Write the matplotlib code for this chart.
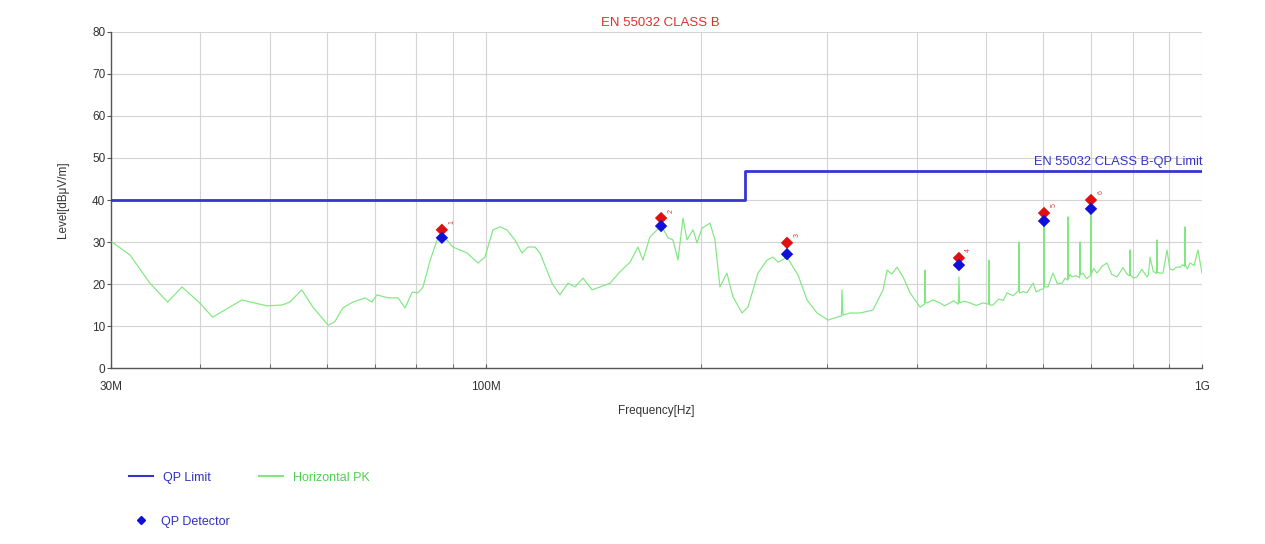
import matplotlib
matplotlib.use("Agg")
import matplotlib.pyplot as plt
from matplotlib.lines import Line2D
from matplotlib.ticker import FixedLocator, NullFormatter

plt.rcParams['font.family'] = ['Liberation Sans', 'DejaVu Sans']

# Horizontal peak scan (frequency in MHz, level in dBuV/m)
scan_freq = [30.1, 31.9, 34.0, 36.0, 37.7, 39.9, 41.6, 45.7, 49.5, 52.0,
             53.3, 55.4, 57.4, 60.3, 61.6, 63.2, 65.3, 67.9, 69.4, 70.5,
             73.1, 75.5, 77.2, 79.0, 80.5, 81.8, 83.7, 85.6, 86.9, 88.3,
             90.0, 94.2, 97.6, 99.8, 102.4, 104.7, 107.1, 109.9, 112.4, 114.6,
             117.2, 119.1, 123.8, 127.0, 130.3, 133.3, 136.8, 140.8, 144.5, 149.2,
             154.0, 159.1, 163.2, 165.8, 169.6, 173.5, 176.3, 179.7, 182.6, 185.6,
             188.6, 191.0, 194.8, 197.3, 200.5, 205.7, 209.0, 212.4, 217.2, 221.5,
             228.0, 232.4, 240.0, 247.1, 251.9, 256.0, 263.5, 273.0, 281.0, 290.2,
             300.6, 309.3, 313.9, 314.4, 315.4, 322.5, 333.1, 347.3, 358.8, 363.4,
             369.0, 375.2, 382.6, 391.3, 404.0, 409.8, 410.5, 411.3, 413.2, 421.0,
             430.8, 437.0, 444.8, 450.0, 456.9, 457.9, 458.9, 466.0, 474.3, 484.0,
             494.8, 503.6, 504.4, 505.2, 510.9, 520.0, 528.0, 534.4, 545.0, 554.5,
             555.3, 556.1, 563.0, 569.8, 575.0, 580.9, 587.0, 594.2, 601.1, 601.9,
             602.7, 609.6, 614.0, 619.5, 628.0, 637.7, 644.0, 649.3, 650.1, 650.9,
             654.0, 658.6, 667.0, 674.9, 675.7, 676.5, 682.2, 690.0, 699.1, 699.9,
             700.7, 706.0, 713.5, 725.0, 736.8, 748.0, 760.8, 776.0, 785.0, 792.7,
             793.5, 794.3, 803.0, 811.6, 824.0, 838.0, 842.0, 846.1, 855.0, 864.6,
             865.4, 866.2, 874.0, 882.2, 893.6, 902.0, 911.0, 920.0, 931.8, 940.0,
             945.9, 946.7, 947.5, 954.0, 962.1, 975.0, 987.2, 1000.0]
scan_level = [30.0, 26.9, 20.2, 15.7, 19.3, 15.5, 12.1, 16.2, 14.8, 15.0,
              15.7, 18.6, 14.5, 10.2, 11.0, 14.3, 15.7, 16.7, 15.7, 17.4,
              16.7, 16.7, 14.3, 18.1, 17.9, 19.3, 25.7, 30.5, 31.7, 30.5,
              28.8, 27.4, 25.0, 26.4, 32.9, 33.6, 32.9, 30.5, 27.4, 28.8,
              28.8, 27.4, 20.2, 17.4, 20.2, 19.3, 21.4, 18.6, 19.3, 20.2,
              22.9, 25.2, 28.8, 25.7, 31.2, 32.9, 33.6, 31.0, 30.5, 25.7,
              35.7, 30.5, 32.9, 29.8, 33.3, 34.5, 30.5, 19.3, 22.6, 16.9,
              13.1, 14.5, 22.6, 25.7, 26.4, 25.2, 26.4, 22.1, 16.2, 13.1,
              11.4, 12.1, 12.4, 18.6, 12.6, 13.1, 13.1, 13.8, 18.6, 23.3,
              22.4, 24.0, 21.7, 17.9, 14.5, 15.2, 23.3, 15.5, 15.5, 16.2,
              15.5, 14.8, 15.5, 16.0, 15.2, 21.7, 15.5, 15.9, 15.5, 14.9,
              15.5, 15.2, 25.7, 15.0, 15.0, 16.4, 16.1, 17.9, 17.2, 18.4,
              30.0, 17.9, 18.2, 17.9, 19.0, 20.2, 18.1, 18.6, 18.9, 34.8,
              19.3, 19.3, 20.9, 22.6, 20.1, 20.2, 21.4, 20.9, 36.0, 21.2,
              22.3, 21.7, 22.0, 21.5, 30.0, 22.2, 22.6, 21.3, 22.0, 37.6,
              22.4, 23.7, 22.6, 24.2, 25.0, 22.3, 21.7, 23.9, 22.4, 21.9,
              28.1, 22.1, 21.4, 21.7, 23.5, 21.7, 22.3, 26.4, 23.0, 22.5,
              30.5, 22.8, 22.6, 22.6, 28.1, 23.6, 23.3, 24.0, 24.0, 24.6,
              24.2, 33.6, 24.5, 23.6, 25.0, 24.4, 28.1, 22.6]

# Limit line (EN 55032 class B, quasi-peak)
limit_freq = [30.0, 230.0, 230.0, 1000.0]
limit_level = [40.0, 40.0, 47.0, 47.0]

# Final measurement points
marker_id = ['1', '2', '3', '4', '5', '6']
marker_freq = [86.9, 175.8, 263.5, 457.9, 601.9, 699.9]
marker_pk = [32.9, 35.7, 29.8, 26.2, 36.9, 40.0]
marker_qp = [31.0, 33.8, 27.1, 24.5, 35.0, 37.9]

x_major = [30.0, 100.0, 1000.0]
x_major_labels = ['30M', '100M', '1G']
x_minor = [40, 50, 60, 70, 80, 90, 200, 300, 400, 500, 600, 700, 800, 900]
y_ticks = [0, 10, 20, 30, 40, 50, 60, 70, 80]

fig = plt.figure(figsize=(12.65, 5.44), dpi=100)
ax = fig.add_axes([0.0877, 0.3235, 0.8625, 0.6177])

ax.set_xscale('log')
ax.set_xlim(30, 1000)
ax.set_ylim(0, 80)

grid_c = '#d4d4d4'
ax.xaxis.set_major_locator(FixedLocator(x_major))
ax.xaxis.set_minor_locator(FixedLocator(x_minor))
ax.set_xticklabels(x_major_labels)
ax.xaxis.set_minor_formatter(NullFormatter())
ax.set_yticks(y_ticks)
ax.grid(True, which='both', color=grid_c, linewidth=0.8)
ax.set_axisbelow(True)

for s in ['top', 'right']:
    ax.spines[s].set_visible(False)
for s in ['left', 'bottom']:
    ax.spines[s].set_color('#555555')
    ax.spines[s].set_linewidth(1.0)

ax.tick_params(axis='y', which='major', direction='out', length=3, color='#555555',
               labelsize=8.5, labelcolor='#333333', pad=1)
ax.tick_params(axis='x', which='both', direction='in', length=3, color='#555555',
               labelsize=8.5, labelcolor='#333333', pad=9)

ax.plot(scan_freq, scan_level, color='#80e880', linewidth=0.85, zorder=3)
ax.plot(limit_freq, limit_level, color='#3535d0', linewidth=2.0, zorder=4)

ax.scatter(marker_freq, marker_pk, marker='D', s=40, color='#e01010', zorder=6,
           edgecolors='none')
ax.scatter(marker_freq, marker_qp, marker='D', s=40, color='#1010d8', zorder=7,
           edgecolors='none')
for mid, f, pk in zip(marker_id, marker_freq, marker_pk):
    ax.annotate(mid, (f, pk), xytext=(7, 4), textcoords='offset points',
                fontsize=5, color='#d04040', rotation=90, ha='center', va='bottom',
                zorder=8)

ax.text(1000, 47.6, 'EN 55032 CLASS B-QP Limit', ha='right', va='bottom',
        fontsize=9.3, color='#3535c0')

fig.text(0.5217, 0.958, 'EN 55032 CLASS B', ha='center', va='center',
         fontsize=9.5, color='#e03030')
ax.set_ylabel('Level[dB\u03bcV/m]', fontsize=8.5, color='#333333', labelpad=17)
fig.text(0.519, 0.245, 'Frequency[Hz]', ha='center', va='center',
         fontsize=8.5, color='#333333')

# Legend entries drawn below the plot area
handles = [Line2D([], [], color='#3535d0', linewidth=1.5),
           Line2D([], [], color='#80e880', linewidth=1.5)]
leg1 = fig.legend(handles, ['QP Limit', 'Horizontal PK'], loc='center left',
                  bbox_to_anchor=(0.093, 0.122), ncol=2, frameon=False,
                  fontsize=9, handlelength=1.9, columnspacing=3.9, handletextpad=0.8)
leg1.get_texts()[0].set_color('#3030c0')
leg1.get_texts()[1].set_color('#50d050')
leg2 = fig.legend([Line2D([], [], color='#1010d8', marker='D', linestyle='none',
                          markersize=4)], ['QP Detector'], loc='center left',
                  bbox_to_anchor=(0.098, 0.041), frameon=False, fontsize=9,
                  handlelength=1.0, handletextpad=1.1)
leg2.get_texts()[0].set_color('#3030c0')

fig.savefig('out.png', dpi=100, facecolor='white')
